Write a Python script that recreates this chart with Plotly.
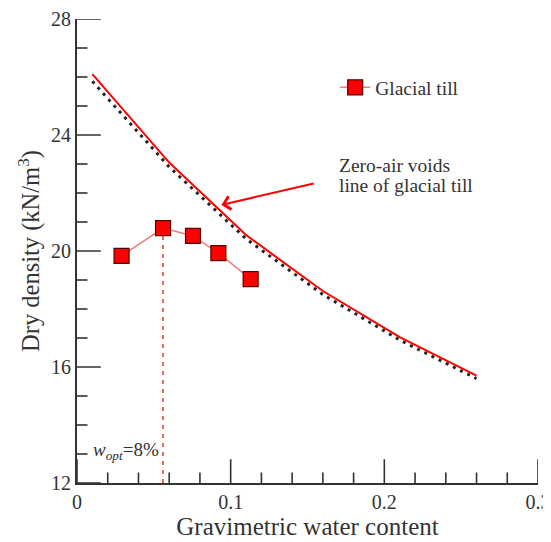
import plotly.graph_objects as go

# Data
w_till = [0.029, 0.056, 0.0755, 0.092, 0.113]
gd_till = [19.83, 20.79, 20.52, 19.93, 19.03]

w_zav = [0.01, 0.06, 0.11, 0.16, 0.21, 0.26]
gd_zav_red = [26.1, 23.05, 20.55, 18.62, 17.03, 15.7]
gd_zav_black = [25.85, 22.9, 20.42, 18.5, 16.93, 15.6]

w_opt = 0.056
y_min, y_max = 12, 28
x_min, x_max = 0, 0.3

# Tick positions
x_major_ticks = [0, 0.1, 0.2, 0.3]
x_major_labels = ["0", "0.1", "0.2", "0.3"]
x_minor_ticks = [0.02, 0.04, 0.06, 0.08, 0.12, 0.14, 0.16, 0.18, 0.22, 0.24, 0.26, 0.28]
y_major_ticks = [12, 16, 20, 24, 28]
y_minor_ticks = [13, 14, 15, 17, 18, 19, 21, 22, 23, 25, 26, 27]

font_family = "Liberation Serif, Times New Roman, serif"
axis_color = "#333333"

fig = go.Figure()

fig.add_trace(go.Scatter(
    x=w_zav, y=gd_zav_red, mode="lines",
    line=dict(color="#ff0000", width=2), showlegend=False, hoverinfo="skip"))
fig.add_trace(go.Scatter(
    x=w_zav, y=gd_zav_black, mode="lines",
    line=dict(color="#222222", width=3, dash="3px,5px"), showlegend=False, hoverinfo="skip"))

fig.add_trace(go.Scatter(
    x=[w_opt, w_opt], y=[y_min, gd_till[1]], mode="lines",
    line=dict(color="#ee3333", width=1.5, dash="4px,5px"), showlegend=False, hoverinfo="skip"))

fig.add_trace(go.Scatter(
    x=w_till, y=gd_till, mode="lines+markers", name="Glacial till",
    line=dict(color="#f27a7a", width=1.5),
    marker=dict(symbol="square", size=15, color="#ff0000",
                line=dict(color="#5a0000", width=1.2))))

# inside tick marks (half of each centred marker is clipped by the plot area)
def tick_trace(xs, ys, symbol, size):
    return go.Scatter(x=xs, y=ys, mode="markers", showlegend=False, hoverinfo="skip",
                      cliponaxis=True,
                      marker=dict(symbol=symbol, size=size, color=axis_color,
                                  line=dict(color=axis_color, width=1.6)))

fig.add_trace(tick_trace(x_major_ticks, [y_min] * len(x_major_ticks), "line-ns-open", 34))
fig.add_trace(tick_trace(x_minor_ticks, [y_min] * len(x_minor_ticks), "line-ns-open", 15))
fig.add_trace(tick_trace([x_min] * len(y_major_ticks), y_major_ticks, "line-ew-open", 34))
fig.add_trace(tick_trace([x_min] * len(y_minor_ticks), y_minor_ticks, "line-ew-open", 15))

fig.add_annotation(
    x=0.094, y=21.59, ax=0.155, ay=22.34,
    xref="x", yref="y", axref="x", ayref="y",
    showarrow=True, arrowhead=4, arrowsize=1.3, arrowwidth=2,
    arrowcolor="#ff0000", text="")
fig.add_annotation(
    x=0.1695, y=22.96, xref="x", yref="y", xanchor="left", yanchor="middle",
    text="Zero-air voids", showarrow=False, align="left",
    font=dict(family=font_family, size=19.5, color="#333333"))
fig.add_annotation(
    x=0.1695, y=22.27, xref="x", yref="y", xanchor="left", yanchor="middle",
    text="line of glacial till", showarrow=False, align="left",
    font=dict(family=font_family, size=19.5, color="#333333"))
fig.add_annotation(
    x=0.0545, y=13.1, xref="x", yref="y", xanchor="right", yanchor="middle",
    text="<i>w</i><sub><i>opt</i></sub>=8%", showarrow=False,
    font=dict(family=font_family, size=19, color="#333333"))

# page body has an 8px margin, so the figure is placed at (8, 8)
fig.update_layout(
    width=543, height=534,
    margin=dict(l=69, r=13, t=11, b=59, autoexpand=False),
    paper_bgcolor="white", plot_bgcolor="white",
    font=dict(family=font_family, size=20, color="#333333"),
    legend=dict(x=0.56, y=0.894, xanchor="left", yanchor="top",
                bgcolor="rgba(0,0,0,0)", font=dict(size=19.5, family=font_family),
                itemwidth=30),
)
fig.update_xaxes(
    range=[x_min, x_max], tickmode="array", tickvals=x_major_ticks, ticktext=x_major_labels,
    automargin=False, ticks="",
    showgrid=False, zeroline=False, showline=True, linecolor=axis_color, linewidth=2,
    title=dict(text="Gravimetric water content", font=dict(size=25, family=font_family), standoff=0),
)
fig.update_yaxes(
    range=[y_min, y_max], tickmode="array", tickvals=y_major_ticks,
    automargin=False, ticks="",
    showgrid=False, zeroline=False, showline=True, linecolor=axis_color, linewidth=2,
    title=dict(text="Dry density (kN/m<sup>3</sup>)", font=dict(size=24.5, family=font_family), standoff=4),
    ticksuffix="     ",
)

fig.write_html("out.html")
